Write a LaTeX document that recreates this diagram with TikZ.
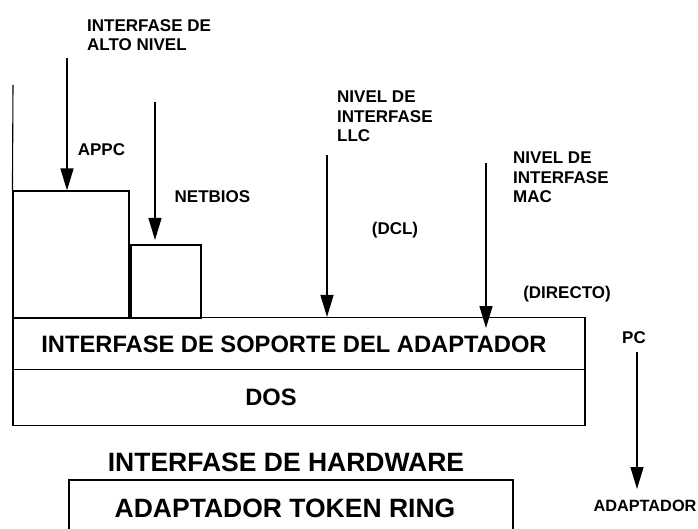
\documentclass[tikz,border=0pt]{standalone}
\usepackage{fontspec}
\setmainfont{Liberation Sans}
\usetikzlibrary{arrows.meta}
\begin{document}
\begin{tikzpicture}[x=1pt,y=-1pt,
  lbl/.style={font=\fontsize{17}{19.5}\selectfont\bfseries, inner sep=0pt, align=left},
  bigA/.style={font=\fontsize{23.7}{28}\selectfont\bfseries, inner sep=0pt},
  bigB/.style={font=\fontsize{26.5}{30}\selectfont\bfseries, inner sep=0pt},
  layer/.style={draw, line width=1.1pt, inner sep=0pt},
  arr/.style={line width=1.4pt, -{Triangle[length=22pt,width=13pt]}}]
\clip (0,0) rectangle (698,529);
\fill[white] (0,0) rectangle (698,529);

% boxes
\node[layer, minimum width=116pt, minimum height=127pt] (appcbox) at (71,254.5) {};
\node[layer, minimum width=70pt, minimum height=73pt] (netbox) at (166,281.5) {};
\node[layer, minimum width=572pt, minimum height=52pt] (soporte) at (299,343.5) {};
\node[layer, minimum width=572pt, minimum height=56pt] (dos) at (299,397.5) {};
\node[layer, minimum width=444pt, minimum height=60pt] (token) at (291,510) {};
\coordinate (ltop) at (13,85);
\draw[line width=1.1pt] (ltop) -- (appcbox.north west);

% texts in layers
\node[bigA] (soptxt) at (294,344) {INTERFASE DE SOPORTE DEL ADAPTADOR};
\node[bigA] (dostxt) at (271,397) {DOS};
\node[bigB] (hwtxt) at (286,462) {INTERFASE DE HARDWARE};
\node[bigB] (tokentxt) at (285,508) {ADAPTADOR TOKEN RING};

% labels
\node[lbl, anchor=north west] (alto) at (87,19) {INTERFASE DE\\ALTO NIVEL};
\node[lbl] (appc) at (101.5,150) {APPC};
\node[lbl] (netbios) at (212.5,197) {NETBIOS};
\node[lbl, anchor=north west] (llc) at (337,91) {NIVEL DE\\INTERFASE\\LLC};
\node[lbl, anchor=north west] (mac) at (513,152) {NIVEL DE\\INTERFASE\\MAC};
\node[lbl] (dcl) at (395,230) {(DCL)};
\node[lbl] (directo) at (567,294) {(DIRECTO)};
\node[lbl] (pc) at (634,338) {PC};
\node[lbl, font=\fontsize{16.3}{19}\selectfont\bfseries] (adapt) at (645,506) {ADAPTADOR};

% arrows
\coordinate (a1) at (67,58);
\draw[arr] (a1) -- (a1 |- appcbox.north);
\coordinate (a2) at (155,102);
\coordinate (a2e) at (155,240);
\draw[arr] (a2) -- (a2e);
\coordinate (a3) at (327,155);
\draw[arr] (a3) -- (a3 |- soporte.north);
\coordinate (a4) at (486,163);
\coordinate (a4e) at (486,328);
\draw[arr] (a4) -- (a4e);
\coordinate (a5) at (637,352);
\coordinate (a5e) at (637,489);
\draw[arr] (a5) -- (a5e);
\end{tikzpicture}
\end{document}
